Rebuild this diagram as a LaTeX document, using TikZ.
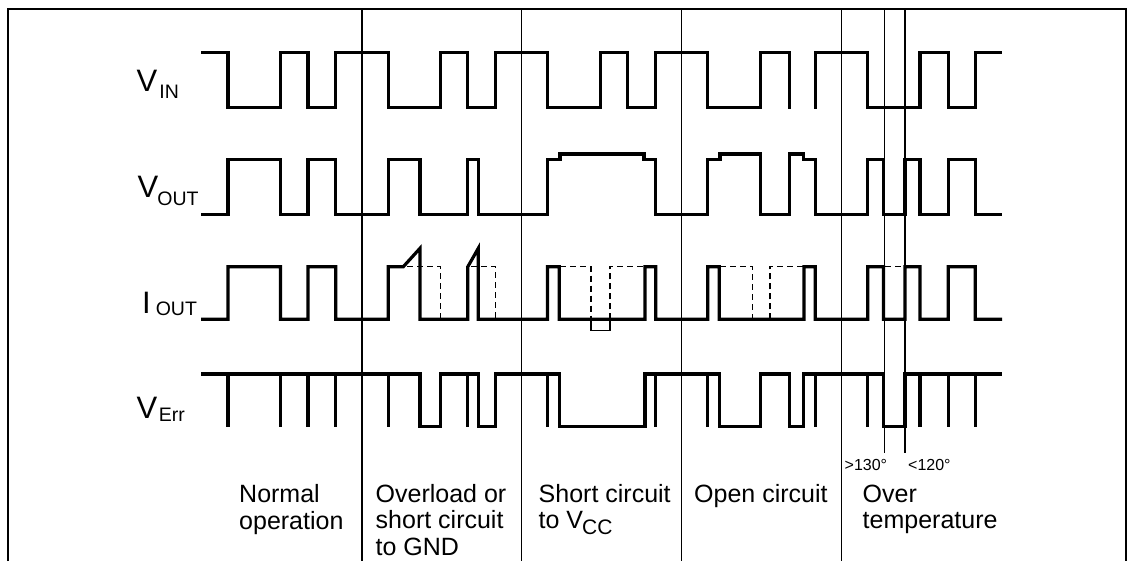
\documentclass[tikz,border=0pt]{standalone}
\usepackage{fontspec}
\setmainfont{Liberation Sans}
\usepackage{graphicx}
\begin{document}
\begin{tikzpicture}[x=1pt,y=-1pt,
  sig/.style={line width=3.2pt,line join=miter},
  spk/.style={line width=3.2pt},
  dsh/.style={line width=1.3pt,dash pattern=on 6pt off 4pt},
  rule/.style={line width=1.2pt},
  thinbox/.style={line width=1.1pt},
  big/.style={inner sep=0pt,anchor=base west,font=\fontsize{31}{31}\selectfont},
  sub/.style={inner sep=0pt,anchor=base west,font=\fontsize{19.5}{20}\selectfont},
  txt/.style={inner sep=0pt,anchor=base west,font=\fontsize{25}{27}\selectfont},
  tmp/.style={inner sep=0pt,anchor=base west,font=\fontsize{16}{16}\selectfont}]
\useasboundingbox (0,0) rectangle (1135,574);
\def\ia{52.7}\def\ib{107.3}
\def\oa{159.3}\def\ob{214.3}\def\oc{154}
\def\ca{266.7}\def\cb{319.3}\def\cp{248.3}
\def\ea{374}\def\eb{426.7}
% frame and dividers
\draw[rule] (8,561) -- (8,9) -- (1126,9) -- (1126,561);
\foreach \x in {362,521.7,681.7,841.5} \draw[rule] (\x,9) -- (\x,561);
\foreach \x in {884.3,905} \draw[rule] (\x,9) -- (\x,453);
% V_IN
\draw[sig] (201,\ia) -- (228,\ia) -- (228,\ib) -- (280.5,\ib) -- (280.5,\ia) -- (308,\ia) -- (308,\ib) -- (335.7,\ib) -- (335.7,\ia) -- (388.3,\ia) -- (388.3,\ib) -- (440.5,\ib) -- (440.5,\ia) -- (467.8,\ia) -- (467.8,\ib) -- (495.7,\ib) -- (495.7,\ia) -- (547.5,\ia) -- (547.5,\ib) -- (600.8,\ib) -- (600.8,\ia) -- (627.5,\ia) -- (627.5,\ib) -- (655.7,\ib) -- (655.7,\ia) -- (707.7,\ia) -- (707.7,\ib) -- (760.3,\ib) -- (760.3,\ia) -- (789.3,\ia) -- (789.3,\ib+1.5);
\draw[sig] (815.3,\ib+1.5) -- (815.3,\ia) -- (867.7,\ia) -- (867.7,\ib) -- (920,\ib) -- (920,\ia) -- (948.3,\ia) -- (948.3,\ib) -- (975.3,\ib) -- (975.3,\ia) -- (1002,\ia);
% V_OUT
\draw[sig] (201,\ob) -- (228,\ob) -- (228,\oa) -- (280.5,\oa) -- (280.5,\ob) -- (308,\ob) -- (308,\oa) -- (335.7,\oa) -- (335.7,\ob) -- (388.3,\ob) -- (388.3,\oa) -- (420,\oa) -- (420,\ob) -- (467.8,\ob) -- (467.8,\oa) -- (478.3,\oa) -- (478.3,\ob) -- (547.5,\ob) -- (547.5,\oa) -- (560,\oa) -- (560,\oc) -- (644,\oc) -- (644,\oa) -- (655.7,\oa) -- (655.7,\ob) -- (707.7,\ob) -- (707.7,\oa) -- (720,\oa) -- (720,\oc) -- (760.5,\oc) -- (760.5,\ob) -- (789.3,\ob) -- (789.3,\oc) -- (803.3,\oc) -- (803.3,\oa) -- (815.3,\oa) -- (815.3,\ob) -- (867.7,\ob) -- (867.7,\oa) -- (883.5,\oa) -- (883.5,\ob) -- (905,\ob) -- (905,\oa) -- (920,\oa) -- (920,\ob) -- (948.3,\ob) -- (948.3,\oa) -- (975.3,\oa) -- (975.3,\ob) -- (1002,\ob);
% I_OUT
\draw[sig] (201,\cb) -- (228,\cb) -- (228,\ca) -- (280.5,\ca) -- (280.5,\cb) -- (308,\cb) -- (308,\ca) -- (335.7,\ca) -- (335.7,\cb) -- (388.3,\cb) -- (388.3,\ca) -- (403.3,\ca) -- (420,\cp) -- (420,\cb) -- (467.8,\cb) -- (467.8,\ca) -- (478.3,\cp) -- (478.3,\cb) -- (547.5,\cb) -- (547.5,\ca) -- (559.3,\ca) -- (559.3,\cb) -- (645,\cb) -- (645,\ca) -- (655.7,\ca) -- (655.7,\cb) -- (707.7,\cb) -- (707.7,\ca) -- (719.3,\ca) -- (719.3,\cb) -- (804,\cb) -- (804,\ca) -- (815.3,\ca) -- (815.3,\cb) -- (867.7,\cb) -- (867.7,\ca) -- (883.5,\ca) -- (883.5,\cb) -- (905,\cb) -- (905,\ca) -- (920,\ca) -- (920,\cb) -- (948.3,\cb) -- (948.3,\ca) -- (975.3,\ca) -- (975.3,\cb) -- (1002,\cb);
\draw[dsh] (407,\ca) -- (440.7,\ca) -- (440.7,\cb);
\draw[dsh] (471,\ca) -- (495.7,\ca) -- (495.7,\cb);
\draw[dsh] (560,\ca) -- (591,\ca) -- (591,\cb);
\draw[dsh] (610,\cb) -- (610,\ca) -- (645,\ca);
\draw[dsh] (720,\ca) -- (752.3,\ca) -- (752.3,\cb);
\draw[dsh] (770,\cb) -- (770,\ca) -- (804,\ca);
\draw[dsh] (885,\ca) -- (905,\ca);
\draw[thinbox] (591,\cb) rectangle (610,330.7);
% V_Err
\draw[sig] (201,\ea) -- (420,\ea) -- (420,\eb) -- (440.7,\eb) -- (440.7,\ea) -- (478.3,\ea) -- (478.3,\eb) -- (495.7,\eb) -- (495.7,\ea) -- (559.3,\ea) -- (559.3,\eb) -- (645,\eb) -- (645,\ea) -- (719.3,\ea) -- (719.3,\eb) -- (760.7,\eb) -- (760.7,\ea) -- (789.3,\ea) -- (789.3,\eb) -- (803.3,\eb) -- (803.3,\ea) -- (883.5,\ea) -- (883.5,\eb) -- (905,\eb) -- (905,\ea) -- (1002,\ea);
\foreach \x in {228,280.5,308,335.7,388.3,467.8,547.5,655.5,707.7,815.3,867.7,920,948.3,975.3}
  \draw[spk] (\x,\ea) -- (\x,\eb);
% signal labels
\node[big] (lvin) at (136.5,91) {V\kern2pt\raisebox{-7pt}{\fontsize{19.5}{20}\selectfont IN}};
\node[big] (lvout) at (137.5,197.5) {V\kern-1pt\raisebox{-7.5pt}{\fontsize{19.5}{20}\selectfont OUT}};
\node[big] (liout) at (142,313) {I\kern5pt\raisebox{-2pt}{\fontsize{19.5}{20}\selectfont OUT}};
\node[big] (lverr) at (136.5,418.5) {V\kern1.5pt\raisebox{-3pt}{\fontsize{19.5}{20}\selectfont Err}};
% case labels
\node[txt] (n1) at (239,502) {Normal};
\node[txt] (n2) at (239,529.5) {operation};
\node[txt] (o1) at (375.5,502) {Overload or};
\node[txt] (o2) at (375.5,528.5) {short circuit};
\node[txt] (o3) at (375.5,555) {to GND};
\node[txt] (s1) at (538.5,502) {Short circuit};
\node[txt] (s2) at (538.5,528.5) {to V\kern-1pt\raisebox{-6pt}{\fontsize{21}{21}\selectfont CC}};
\node[txt] (p1) at (694,502) {Open circuit};
\node[txt] (t1) at (862.5,502) {Over};
\node[txt] (t2) at (862.5,528.5) {temperature};
\node[tmp] (d1) at (844.5,470) {>130°};
\node[tmp] (d2) at (908,470) {<120°};
\end{tikzpicture}
\end{document}
